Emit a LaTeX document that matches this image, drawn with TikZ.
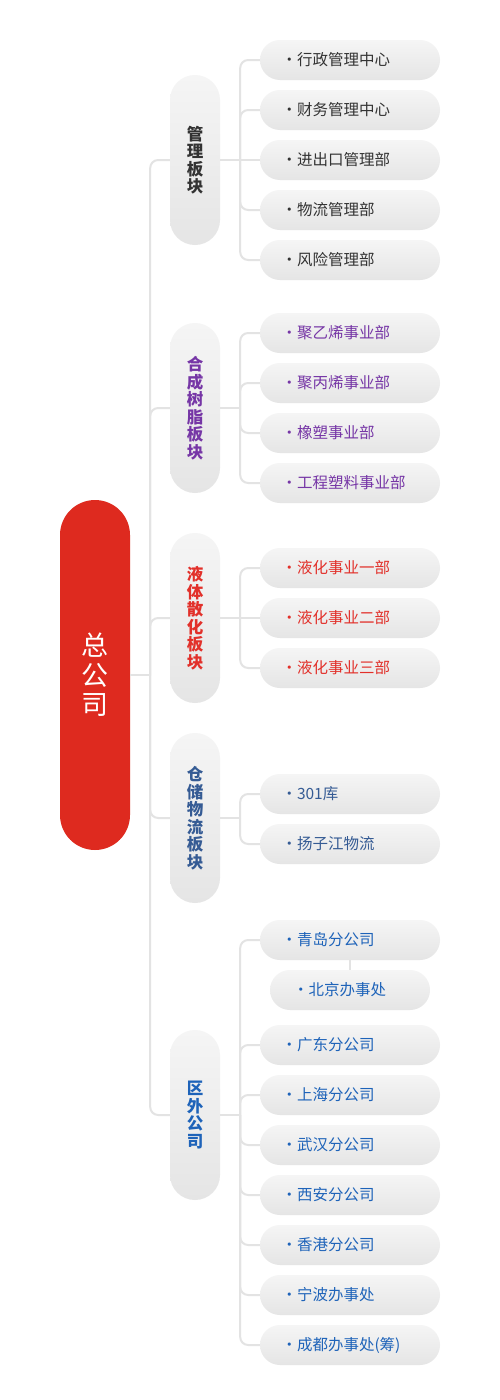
\documentclass[tikz,border=0pt]{standalone}
\usepackage{fontspec}
\setmainfont{Noto Sans CJK SC}
\definecolor{rootred}{HTML}{DE2A1F}
\definecolor{edgegray}{HTML}{E3E3E3}
\definecolor{pilltop}{HTML}{F5F5F5}
\definecolor{pillbottom}{HTML}{E5E5E5}
\definecolor{inkgray}{HTML}{333333}
\definecolor{inkpurple}{HTML}{7636A6}
\definecolor{inkred}{HTML}{E2302A}
\definecolor{inkslate}{HTML}{355B94}
\definecolor{inkblue}{HTML}{1E63B9}
\begin{document}
\begin{tikzpicture}[x=1pt,y=-1pt]
	 \tikzstyle{head} = [rectangle,rounded corners=35pt,minimum width=70pt,minimum height=350pt,inner sep=0pt,fill=rootred,text=white,align=center,font=\fontsize{27}{29.5}\selectfont]
	 \tikzstyle{block} = [rectangle,rounded corners=25pt,minimum width=50pt,minimum height=170pt,inner sep=0pt,top color=pilltop,bottom color=pillbottom,align=center,font=\bfseries\fontsize{16.5}{17.5}\selectfont]
	 \tikzstyle{unit} = [rectangle,rounded corners=20pt,minimum height=40pt,text width=137pt,inner xsep=21.5pt,inner ysep=0pt,top color=pilltop,bottom color=pillbottom,align=left,font=\fontsize{15.5}{18}\selectfont]
	 \tikzstyle{edge} = [draw,line width=2pt,edgegray,rounded corners=8pt]

	 \fill[white] (0,0) rectangle (500,1400);
	 \useasboundingbox (0,0) rectangle (500,1400);

	 \node[head] (root) at (95,675) {总\\公\\司};

	 \node[block,text=inkgray] (b1) at (195,160) {管\\理\\板\\块};
	 \node[block,text=inkpurple] (b2) at (195,408) {合\\成\\树\\脂\\板\\块};
	 \node[block,text=inkred] (b3) at (195,618) {液\\体\\散\\化\\板\\块};
	 \node[block,text=inkslate] (b4) at (195,818) {仓\\储\\物\\流\\板\\块};
	 \node[block,text=inkblue] (b5) at (195,1115) {区\\外\\公\\司};

	 \node[unit,text=inkgray] (u11) at (350,60) {•行政管理中心};
	 \node[unit,text=inkgray] (u12) at (350,110) {•财务管理中心};
	 \node[unit,text=inkgray] (u13) at (350,160) {•进出口管理部};
	 \node[unit,text=inkgray] (u14) at (350,210) {•物流管理部};
	 \node[unit,text=inkgray] (u15) at (350,260) {•风险管理部};

	 \node[unit,text=inkpurple] (u21) at (350,333) {•聚乙烯事业部};
	 \node[unit,text=inkpurple] (u22) at (350,383) {•聚丙烯事业部};
	 \node[unit,text=inkpurple] (u23) at (350,433) {•橡塑事业部};
	 \node[unit,text=inkpurple] (u24) at (350,483) {•工程塑料事业部};

	 \node[unit,text=inkred] (u31) at (350,568) {•液化事业一部};
	 \node[unit,text=inkred] (u32) at (350,618) {•液化事业二部};
	 \node[unit,text=inkred] (u33) at (350,668) {•液化事业三部};

	 \node[unit,text=inkslate] (u41) at (350,794) {•301库};
	 \node[unit,text=inkslate] (u42) at (350,844) {•扬子江物流};

	 \node[unit,text=inkblue] (u51) at (350,940) {•青岛分公司};
	 \node[unit,text=inkblue,text width=114pt,inner xsep=23pt] (u5b) at (350,990) {•北京办事处};
	 \node[unit,text=inkblue] (u52) at (350,1045) {•广东分公司};
	 \node[unit,text=inkblue] (u53) at (350,1095) {•上海分公司};
	 \node[unit,text=inkblue] (u54) at (350,1145) {•武汉分公司};
	 \node[unit,text=inkblue] (u55) at (350,1195) {•西安分公司};
	 \node[unit,text=inkblue] (u56) at (350,1245) {•香港分公司};
	 \node[unit,text=inkblue] (u57) at (350,1295) {•宁波办事处};
	 \node[unit,text=inkblue] (u58) at (350,1345) {•成都办事处(筹)};

	 \draw[edge] (root.east) -- ++(20,0) coordinate (hub);
	 \draw[edge] (hub) |- (b1.west);
	 \draw[edge] (hub) |- (b2.west);
	 \draw[edge] (hub) |- (b3.west);
	 \draw[edge] (hub) |- (b4.west);
	 \draw[edge] (hub) |- (b5.west);

	 \draw[edge] (b1.east) -- ++(20,0) coordinate (h1);
	 \draw[edge] (h1) |- (u11.west);
	 \draw[edge] (h1) |- (u12.west);
	 \draw[edge] (h1) -- (u13.west);
	 \draw[edge] (h1) |- (u14.west);
	 \draw[edge] (h1) |- (u15.west);

	 \draw[edge] (b2.east) -- ++(20,0) coordinate (h2);
	 \draw[edge] (h2) |- (u21.west);
	 \draw[edge] (h2) |- (u22.west);
	 \draw[edge] (h2) |- (u23.west);
	 \draw[edge] (h2) |- (u24.west);

	 \draw[edge] (b3.east) -- ++(20,0) coordinate (h3);
	 \draw[edge] (h3) |- (u31.west);
	 \draw[edge] (h3) -- (u32.west);
	 \draw[edge] (h3) |- (u33.west);

	 \draw[edge] (b4.east) -- ++(20,0) coordinate (h4);
	 \draw[edge] (h4) |- (u41.west);
	 \draw[edge] (h4) |- (u42.west);

	 \draw[edge] (b5.east) -- ++(20,0) coordinate (h5);
	 \draw[edge] (h5) |- (u51.west);
	 \draw[edge] (h5) |- (u52.west);
	 \draw[edge] (h5) |- (u53.west);
	 \draw[edge] (h5) |- (u54.west);
	 \draw[edge] (h5) |- (u55.west);
	 \draw[edge] (h5) |- (u56.west);
	 \draw[edge] (h5) |- (u57.west);
	 \draw[edge] (h5) |- (u58.west);
	 \draw[edge] (u51.south) -- (u5b.north);
\end{tikzpicture}
\end{document}
